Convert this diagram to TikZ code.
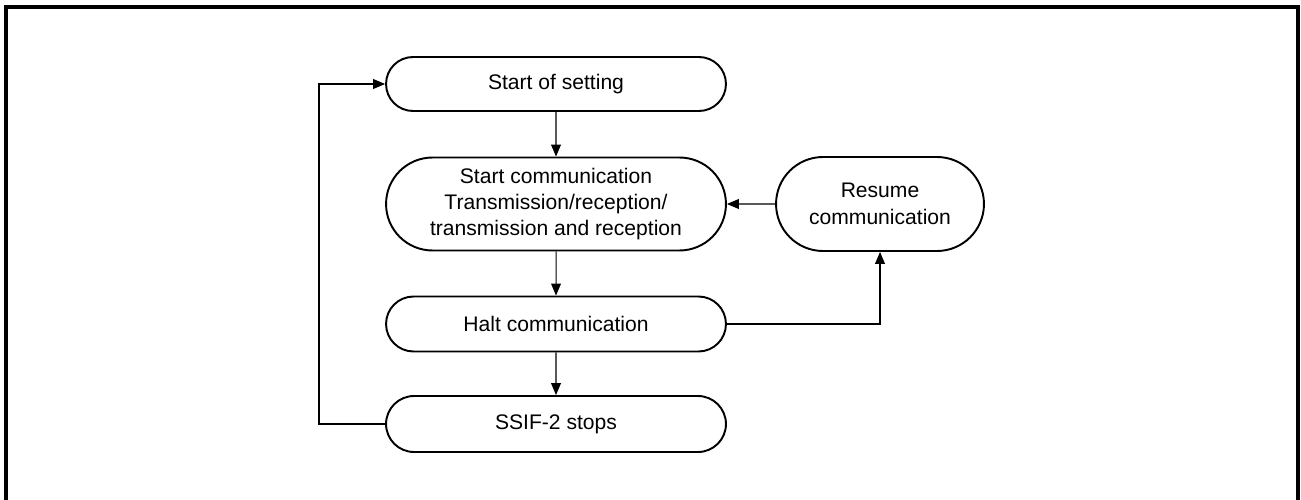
\documentclass[tikz,border=0pt]{standalone}
\usepackage{fontspec}
\setmainfont{Liberation Sans}
\usetikzlibrary{positioning,arrows.meta,shapes.misc}
\tikzset{
  flow/.style={-{Triangle[length=6.8pt,width=5.6pt]}, line width=0.6pt},
  term/.style={rounded rectangle, draw, line width=1.1pt, align=center,
    font=\fontsize{12}{15}\selectfont, inner sep=2pt, minimum width=6.94cm},
  frame/.style={line width=1.8pt},
}

\begin{document}
\begin{tikzpicture}[x=0.02cm,y=-0.02cm]
  \useasboundingbox (0,0) rectangle (1301,500);
  \draw[frame] (6,7) rectangle (1298,504);
  % steps
  \node[term, minimum height=1.08cm] (setting) at (556,84) {Start of setting};
  \node[term, minimum height=1.86cm] (startcomm) at (556,204)
    {Start communication\\Transmission/reception/\\transmission and reception};
  \node[term, minimum height=1.88cm, minimum width=4.3cm] (resume) at (880,204)
    {Resume\\communication};
  \node[term, minimum height=1.1cm] (halt) at (556,324) {Halt communication};
  \node[term, minimum height=1.12cm] (ssif) at (556,424) {SSIF-2 stops};
  \coordinate (loop) at (319,424);
  % connectors
  \draw[flow] (setting) -- (startcomm);
  \draw[flow] (startcomm) -- (halt);
  \draw[flow] (halt) -- (ssif);
  \draw[flow] (resume) -- (startcomm);
  \draw[flow] (halt.east) -| (resume.south);
  \draw[flow] (ssif.west) -- (loop) |- (setting.west);
\end{tikzpicture}
\end{document}
